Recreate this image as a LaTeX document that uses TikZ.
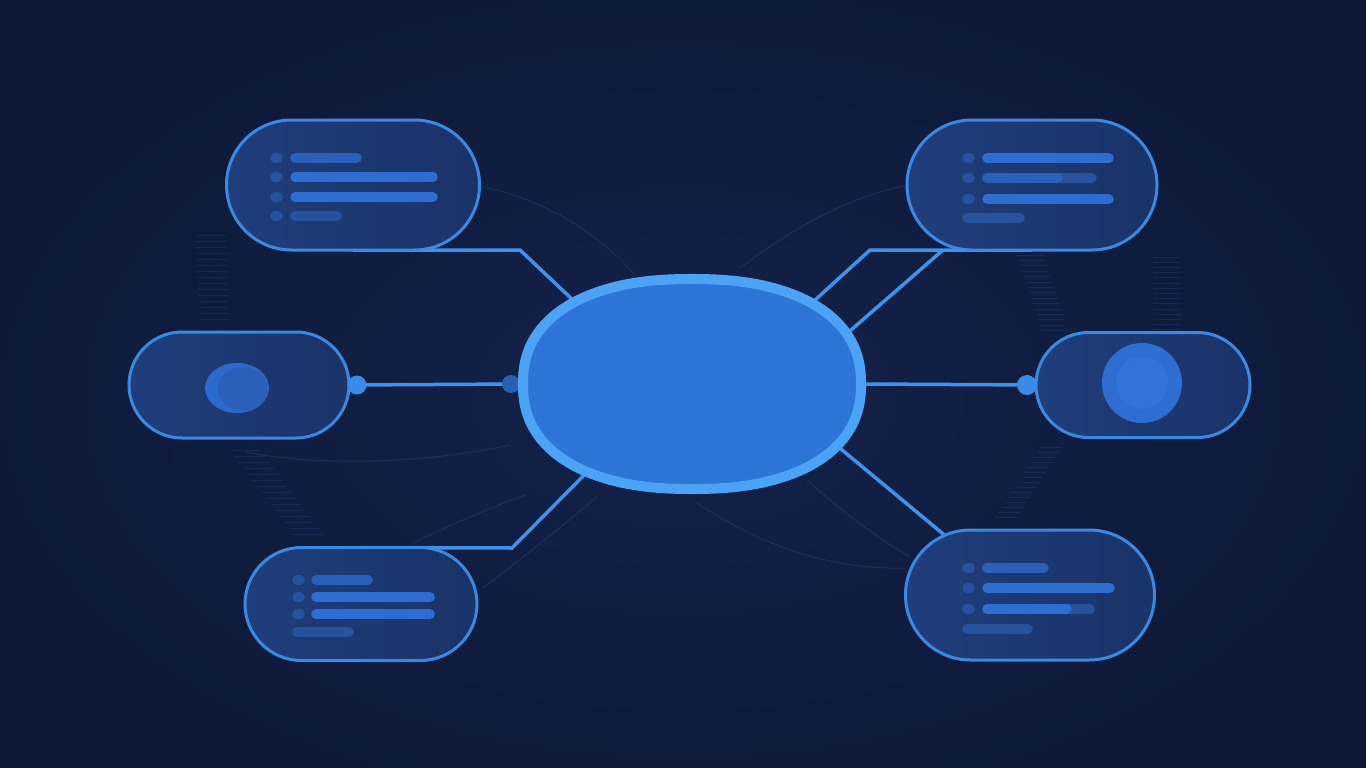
\documentclass[tikz,border=0pt]{standalone}
\usetikzlibrary{shapes.misc,shapes.geometric}
\definecolor{bgout}{HTML}{0E1938}
\definecolor{bgin}{HTML}{13224B}
\definecolor{pillL}{HTML}{1F3E7C}
\definecolor{pillR}{HTML}{1A3368}
\definecolor{pillborder}{HTML}{3B88E2}
\definecolor{conncol}{HTML}{3F92EC}
\definecolor{hubfill}{HTML}{2D76D7}
\definecolor{hubborder}{HTML}{4CA3F5}
\definecolor{barhi}{HTML}{2E6ED2}
\definecolor{barmid}{HTML}{2B60BA}
\definecolor{barlo}{HTML}{28529D}
\definecolor{dotcol}{HTML}{3A8AE8}
\definecolor{dotdark}{HTML}{2A5FB6}
\definecolor{faint}{HTML}{3E6CC0}
\definecolor{iconlt}{HTML}{2D68CC}
\definecolor{iconin}{HTML}{3274D8}
\pgfdeclarelayer{bglayer}
\pgfdeclarelayer{connlayer}
\pgfsetlayers{bglayer,connlayer,main}
\begin{document}
\begin{tikzpicture}[x=1pt,y=-1pt,
  pill/.style={rounded rectangle, draw=pillborder, line width=3pt,
    left color=pillL, right color=pillR, inner sep=0pt, outer sep=0pt},
  conn/.style={draw=conncol, line width=3.5pt},
  hubshape/.style={fill=hubfill, draw=hubborder, line width=10pt},
  bar/.style={line width=9.5pt, line cap=round},
  dotnode/.style={circle, fill=dotcol, inner sep=0pt, minimum size=19pt},
  dotdk/.style={circle, fill=dotdark, inner sep=0pt, minimum size=18pt},
  faintline/.style={draw=faint, opacity=0.22, line width=1pt},
  tickline/.style={draw=faint, opacity=0.16, line width=1pt}]
\useasboundingbox (0,0) rectangle (1366,768);
\begin{pgfonlayer}{bglayer}
\fill[bgout] (0,0) rectangle (1366,768);
\shade[inner color=bgin, outer color=bgout] (683,400) ellipse (720 and 430);
% faint arcs
\draw[faintline] (478,186) .. controls (545,198) and (600,235) .. (635,275);
\draw[faintline] (740,268) .. controls (790,230) and (850,195) .. (910,185);
\draw[faintline] (697,503) .. controls (760,545) and (830,570) .. (905,568);
\draw[faintline] (807,480) .. controls (840,510) and (880,540) .. (910,557);
\draw[faintline] (413,543) .. controls (450,525) and (490,508) .. (525,495);
\draw[faintline] (483,588) .. controls (520,560) and (560,528) .. (597,497);
\draw[faintline] (245,452) .. controls (330,468) and (430,462) .. (510,445);
% faint tick stacks
\foreach \i in {0,...,14} {
  \draw[tickline] (196+0.2*\i,235+6*\i) -- +(30,0);
  \draw[tickline] (230+4.5*\i,450+6*\i) -- +(30,0);
  \draw[tickline] (1017+1.8*\i,255+5.4*\i) -- +(26,0);
  \draw[tickline] (1153,257+5.2*\i) -- +(28,0);
  \draw[tickline] (1040-3.2*\i,447+5*\i) -- +(22,0);
}
\end{pgfonlayer}
% invisible hub for anchors
\node[ellipse, minimum width=348pt, minimum height=220pt, inner sep=0pt, outer sep=0pt] (hub) at (692,384) {};
% pills
\node[pill, minimum width=253pt, minimum height=130pt] (tl) at (353,185) {};
\node[pill, minimum width=250pt, minimum height=130pt] (tr) at (1032,185) {};
\node[pill, minimum width=220pt, minimum height=106pt] (lp) at (239,385) {};
\node[pill, minimum width=214pt, minimum height=105pt] (rp) at (1143,385) {};
\node[pill, minimum width=232pt, minimum height=113pt] (bl) at (361,604) {};
\node[pill, minimum width=249pt, minimum height=130pt] (br) at (1030,595) {};
\coordinate (tlbend) at (520,250);
\coordinate (trbend) at (870,250);
\coordinate (trjoin) at (943,250);
\coordinate (blbend) at (512,548);
% connectors beneath pills
\begin{pgfonlayer}{connlayer}
\draw[conn] (tl.south) -- (tlbend) -- (hub.145);
\draw[conn] (hub.34) -- (trbend) -- (tr.south);
\draw[conn] (hub.18) -- (trjoin);
\draw[conn] (hub.337) -- (br.145);
\draw[conn] (hub.220) -- (blbend) -- (bl.north);
\draw[conn] (lp.east) -- (hub.west);
\draw[conn] (hub.east) -- (rp.west);
\node[dotdk] (ldotB) at ([xshift=-7pt]hub.west) {};
\end{pgfonlayer}
% hub (superellipse)
\filldraw[hubshape] plot[domain=1:359, samples=180]
  ({692+169*sign(cos(\x))*abs(cos(\x))^0.87}, {384+105*sign(sin(\x))*abs(sin(\x))^0.87}) -- cycle;
% dots
\node[dotnode] (ldotA) at ([xshift=8pt]lp.east) {};
\node[dotnode, minimum size=20pt] (rdot) at ([xshift=-9pt]rp.west) {};
% top-left pill content
\draw[bar, barlo] (275,158) -- (278,158);
\draw[bar, barlo] (275,177) -- (278,177);
\draw[bar, barlo] (275,197) -- (278,197);
\draw[bar, barlo] (275,216) -- (278,216);
\draw[bar, barmid] (295,158) -- (357,158);
\draw[bar, barhi] (295,177) -- (433,177);
\draw[bar, barhi] (295,197) -- (433,197);
\draw[bar, barlo] (295,216) -- (337,216);
% top-right pill content
\draw[bar, barlo] (967,158) -- (970,158);
\draw[bar, barlo] (967,178) -- (970,178);
\draw[bar, barlo] (967,199) -- (970,199);
\draw[bar, barhi] (987,158) -- (1109,158);
\draw[bar, barlo] (987,178) -- (1092,178);
\draw[bar, barmid] (987,178) -- (1058,178);
\draw[bar, barhi] (987,199) -- (1109,199);
\draw[bar, barlo] (967,218) -- (1020,218);
% bottom-left pill content
\draw[bar, barlo] (297,580) -- (300,580);
\draw[bar, barlo] (297,597) -- (300,597);
\draw[bar, barlo] (297,614) -- (300,614);
\draw[bar, barmid] (316,580) -- (368,580);
\draw[bar, barhi] (316,597) -- (430,597);
\draw[bar, barhi] (316,614) -- (430,614);
\draw[bar, barlo] (297,632) -- (349,632);
% bottom-right pill content
\draw[bar, barlo] (967,568) -- (970,568);
\draw[bar, barlo] (967,588) -- (970,588);
\draw[bar, barlo] (967,609) -- (970,609);
\draw[bar, barmid] (987,568) -- (1044,568);
\draw[bar, barhi] (987,588) -- (1110,588);
\draw[bar, barlo] (987,609) -- (1090,609);
\draw[bar, barhi] (987,609) -- (1067,609);
\draw[bar, barlo] (967,629) -- (1028,629);
% left icon (crescent)
\fill[iconlt] (237,388) ellipse (32 and 25);
\fill[barmid] (243,389) ellipse (25 and 22);
% right icon
\fill[barhi] (1142,383) circle (40);
\fill[iconin] (1142,383) circle (26);
\end{tikzpicture}
\end{document}
